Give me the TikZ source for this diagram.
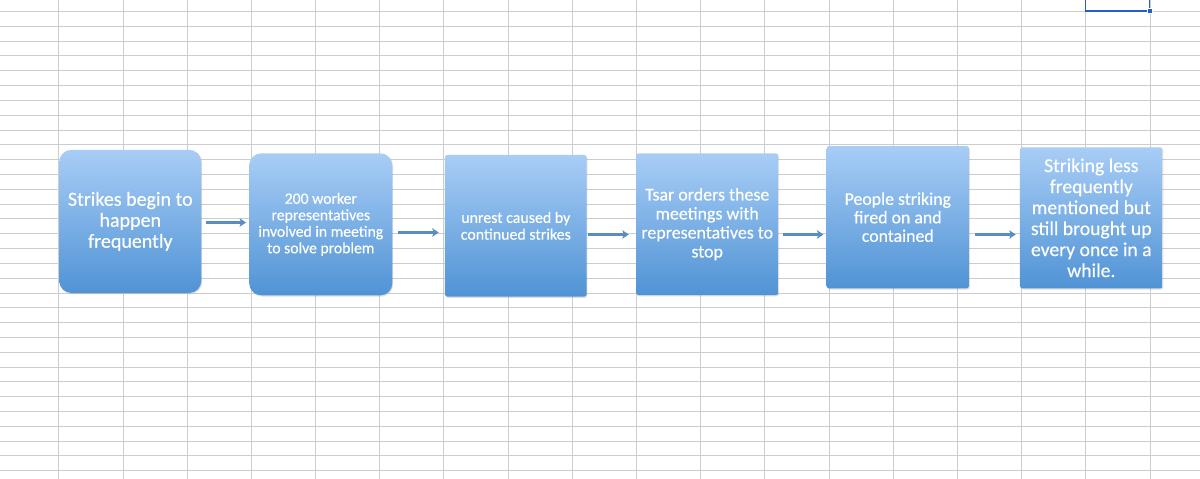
\documentclass[tikz,border=0pt]{standalone}
\usepackage{fontspec}
\setmainfont[FakeBold=0.3]{Carlito}
\usetikzlibrary{arrows.meta,shadows}
\definecolor{gridc}{HTML}{CDCDCD}
\definecolor{boxtop}{HTML}{A8CDF6}
\definecolor{boxbot}{HTML}{5093D5}
\definecolor{arrc}{HTML}{5B8EC0}
\definecolor{selc}{HTML}{1F5FD0}
\tikzset{
  flowbox/.style={draw=none, top color=boxtop, bottom color=boxbot, text=white,
    align=center, inner sep=0pt, minimum width=142pt, minimum height=142pt,
    drop shadow={shadow xshift=0.8pt, shadow yshift=-1.2pt, opacity=0.25}},
  bigr/.style={rounded corners=12pt},
  smallr/.style={rounded corners=2.5pt},
  flowarrow/.style={draw=arrc, line width=2.5pt, -{Stealth[length=6.5pt,width=8.5pt,inset=1.5pt]}},
  gridline/.style={draw=gridc, line width=1.3pt}
}
\begin{document}
\begin{tikzpicture}[x=1pt,y=-1pt]
\useasboundingbox (0,0) rectangle (1200,479);
\fill[white] (0,0) rectangle (1200,479);
% spreadsheet grid
\foreach \k in {0,...,31} {
  \pgfmathsetmacro{\gy}{round(11+14.816*\k)+0.5}
  \draw[gridline] (0,\gy) -- (1200,\gy);
}
\foreach \k in {0,...,17} {
  \pgfmathsetmacro{\gx}{round(58.3+64.2*\k)+0.5}
  \draw[gridline] (\gx,0) -- (\gx,479);
}
% selected cell
\draw[selc, line width=1.6pt] (1085.5,-2) -- (1085.5,11) -- (1149.5,11) -- (1149.5,-2);
\node[draw=white, fill=selc, line width=0.6pt, minimum size=5pt, inner sep=0pt] (handle) at (1149.5,11) {};
% boxes
\node[flowbox, bigr, minimum width=142pt, minimum height=143pt, font=\fontsize{20}{21}\selectfont] (b1) at (130.3,221.4)
  {Strikes begin to\\happen\\frequently};
\node[flowbox, bigr, minimum width=143pt, minimum height=142pt, font=\fontsize{15.7}{16.5}\selectfont] (b2) at (320.8,224.3)
  {200 worker\\representatives\\involved in meeting\\to solve problem};
\node[flowbox, smallr, minimum width=141.7pt, minimum height=141.7pt, font=\fontsize{15.9}{16.8}\selectfont] (b3) at (515.8,225.8)
  {unrest caused by\\continued strikes};
\node[flowbox, smallr, minimum width=142.3pt, minimum height=141.7pt, font=\fontsize{17.9}{19}\selectfont] (b4) at (707.2,224.2)
  {Tsar orders these\\meetings with\\representatives to\\stop};
\node[flowbox, smallr, minimum width=142.3pt, minimum height=142.3pt, font=\fontsize{17.8}{18.5}\selectfont] (b5) at (897.8,217.2)
  {People striking\\fired on and\\contained};
\node[flowbox, smallr, minimum width=142.7pt, minimum height=141pt, font=\fontsize{19.7}{21}\selectfont] (b6) at (1091.3,217.8)
  {Striking less\\frequently\\mentioned but\\still brought up\\every once in a\\while.};
% arrows
\draw[flowarrow, shorten <=4pt, shorten >=3pt] (b1.east |- 0,222.5) -- (b2.west |- 0,222.5);
\draw[flowarrow, shorten <=5.7pt, shorten >=6pt] (b2.east |- 0,232.5) -- (b3.west |- 0,232.5);
\draw[flowarrow, shorten <=1.5pt, shorten >=7pt] (b3.east |- 0,234.5) -- (b4.west |- 0,234.5);
\draw[flowarrow, shorten <=4.7pt, shorten >=3pt] (b4.east |- 0,234.5) -- (b5.west |- 0,234.5);
\draw[flowarrow, shorten <=6pt, shorten >=4pt] (b5.east |- 0,234.5) -- (b6.west |- 0,234.5);
\end{tikzpicture}
\end{document}
